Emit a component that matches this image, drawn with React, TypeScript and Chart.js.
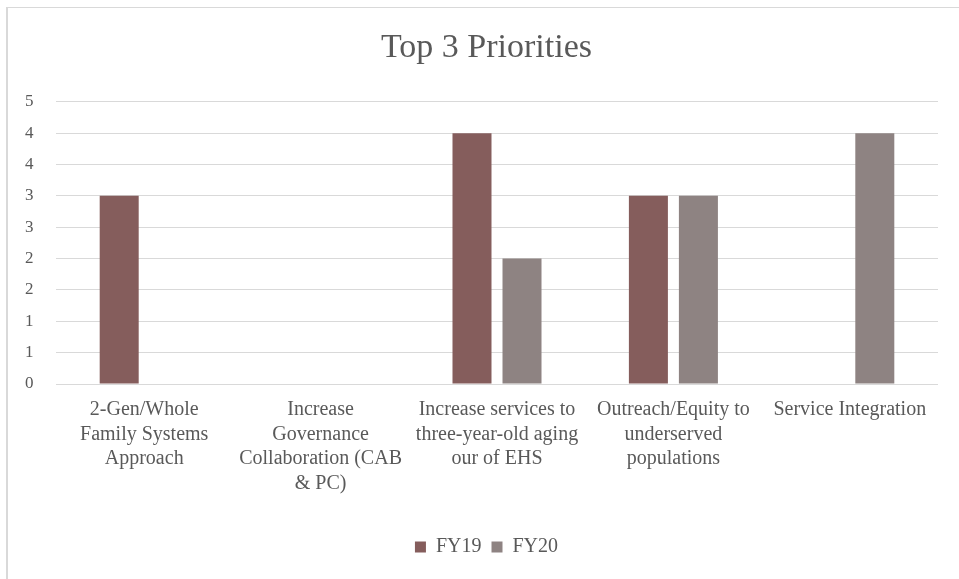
import React, { useEffect, useRef } from "react";
import { Chart, registerables } from "chart.js";

Chart.register(...registerables);

const categories: string[][] = [
  ["2-Gen/Whole", "Family Systems", "Approach"],
  ["Increase", "Governance", "Collaboration (CAB", "& PC)"],
  ["Increase services to", "three-year-old aging", "our of EHS"],
  ["Outreach/Equity to", "underserved", "populations"],
  ["Service Integration"],
];
const fy19: (number | null)[] = [3, null, 4, 3, null];
const fy20: (number | null)[] = [null, null, 2, 3, 4];
const yTickValues: number[] = [0, 0.5, 1, 1.5, 2, 2.5, 3, 3.5, 4, 4.5];
const yTickLabels: string[] = ["0", "1", "1", "2", "2", "3", "3", "4", "4", "5"];

const FONT = "'Liberation Serif', 'Times New Roman', serif";
const TEXT = "#595959";

export default function App() {
  const ref = useRef<HTMLCanvasElement | null>(null);
  useEffect(() => {
    if (!ref.current) return;
    const chart = new Chart(ref.current, {
      type: "bar",
      data: {
        labels: categories,
        datasets: [
          { label: "FY19", data: fy19, backgroundColor: "#855D5C", categoryPercentage: 0.567, barPercentage: 0.78 },
          { label: "FY20", data: fy20, backgroundColor: "#8E8382", categoryPercentage: 0.567, barPercentage: 0.78 },
        ],
      },
      options: {
        responsive: false,
        animation: false,
        layout: { padding: { left: 35, right: 21, top: 0, bottom: 12 } },
        plugins: {
          title: {
            display: true,
            text: "Top 3 Priorities",
            color: TEXT,
            font: { family: FONT, size: 34, weight: "normal", lineHeight: 1.2 },
            padding: { top: 28, bottom: 33 },
          },
          legend: {
            position: "bottom",
            labels: {
              color: TEXT,
              font: { family: FONT, size: 20 },
              boxWidth: 11,
              boxHeight: 11,
              padding: 10,
            },
          },
          tooltip: { enabled: false },
        },
        scales: {
          x: {
            grid: { display: false, drawTicks: false },
            border: { display: false },
            ticks: {
              color: TEXT,
              font: { family: FONT, size: 20, lineHeight: 1.22 },
              padding: 14,
              maxRotation: 0,
              autoSkip: false,
            },
            afterFit: (s: any) => { s.height = 143; },
          },
          y: {
            min: 0,
            max: 4.5,
            grid: { color: "#D9D9D9", drawTicks: false, lineWidth: 1 },
            border: { display: false },
            afterBuildTicks: (s: any) => { s.ticks = yTickValues.map((v) => ({ value: v })); },
            ticks: {
              color: TEXT,
              font: { family: FONT, size: 17 },
              mirror: true,
              padding: -31,
              callback: (_v: any, i: number) => yTickLabels[i],
            },
            afterFit: (s: any) => { s.width = 21; },
          },
        },
      },
    });
    return () => chart.destroy();
  }, []);
  return (
    <div style={{ position: "absolute", left: 0, top: 0, width: 959, height: 579, background: "#fff", overflow: "hidden" }}>
      <div style={{ position: "absolute", left: 6, top: 7, width: 1000, height: 1000, borderLeft: "2px solid #D9D9D9", borderTop: "1px solid #D9D9D9" }} />
      <canvas ref={ref} width={959} height={579} style={{ position: "absolute", left: 0, top: 0 }} />
    </div>
  );
}
